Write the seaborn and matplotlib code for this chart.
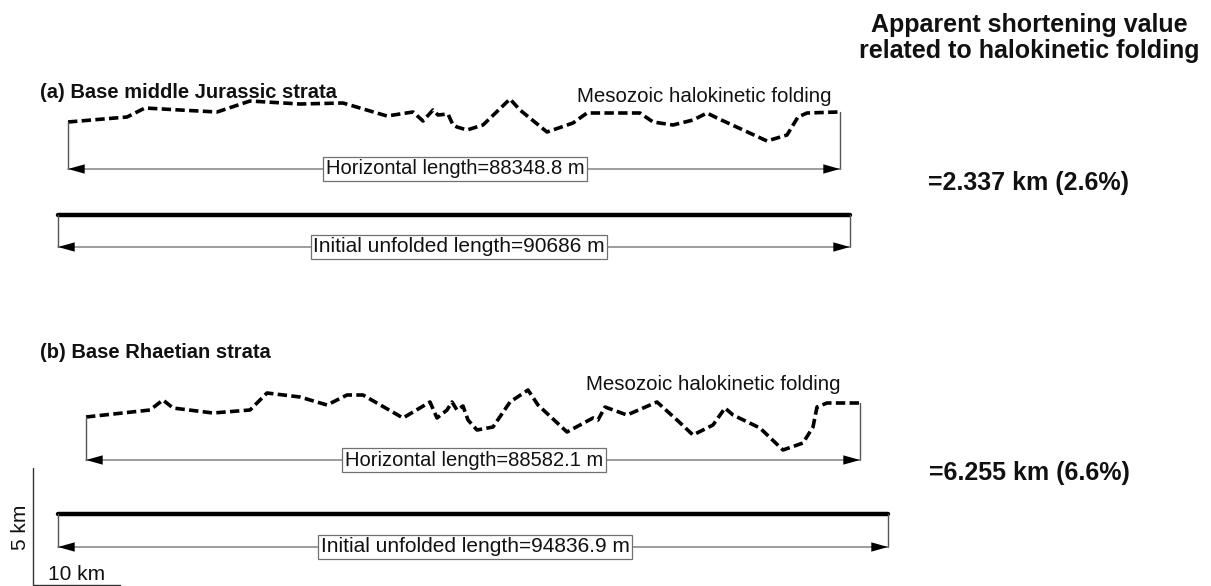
import matplotlib.pyplot as plt
import seaborn as sns

# Profile traces (image pixel units, y grows downward)
a_x = [68, 127, 145, 180, 217, 250, 300, 343, 387, 413, 423, 433, 438, 448, 453,
       457, 467, 483, 510, 520, 547, 573, 587, 640, 653, 673, 693, 707, 717, 767,
       787, 798, 807, 838, 840]
a_y = [122, 117, 108, 110, 112, 101, 104, 103, 116, 112, 121, 110, 115, 114, 125,
       127, 130, 125, 99, 110, 132, 123, 113, 113, 122, 125, 120, 113, 118, 141,
       135, 117, 113, 112, 112]

b_x = [86, 150, 163, 173, 213, 250, 267, 300, 327, 347, 363, 403, 430, 437, 447,
       452, 457, 463, 468, 477, 493, 510, 528, 538, 567, 593, 598, 605, 627, 657,
       677, 693, 713, 725, 733, 760, 783, 803, 813, 817, 827, 860]
b_y = [417, 410, 400, 408, 413, 410, 393, 397, 405, 395, 395, 418, 402, 418, 410,
       402, 410, 406, 420, 430, 427, 402, 390, 405, 432, 418, 420, 407, 415, 402,
       420, 435, 425, 408, 415, 428, 450, 443, 427, 407, 403, 403]

# Unfolded lines: start, end, line level, arrow level
unfold_x0 = [58, 58]
unfold_x1 = [850, 888]
unfold_y = [215, 514]
unfold_arrow_y = [247, 547]

# Horizontal arrows under the folded profiles
horiz_arrow_y = [169, 460]

titles = ["(a) Base middle Jurassic strata", "(b) Base Rhaetian strata"]
title_y = [92, 352]
horiz_labels = ["Horizontal length=88348.8 m", "Horizontal length=88582.1 m"]
horiz_label_x = [455, 474]
unfold_labels = ["Initial unfolded length=90686 m", "Initial unfolded length=94836.9 m"]
unfold_label_x = [459, 475]
fold_label = "Mesozoic halokinetic folding"
fold_label_x = [577, 586]
fold_label_y = [96, 384]
shortening = ["=2.337 km (2.6%)", "=6.255 km (6.6%)"]
shortening_y = [183, 473]

sns.set_theme(style="white")
plt.rcParams['font.family'] = ['Liberation Sans', 'DejaVu Sans']

fig = plt.figure(figsize=(12.11, 5.86), dpi=100)
ax = fig.add_axes([0, 0, 1, 1])
ax.set_xlim(0, 1211)
ax.set_ylim(586, 0)
ax.axis("off")

box = dict(boxstyle="square,pad=0.12", fc="white", ec="#707070", lw=0.9)


def arrow_head(x, y, direction):
    # small filled black head pointing along direction (+1 right, -1 left)
    ax.annotate("", xy=(x, y), xytext=(x - direction * 12, y),
                arrowprops=dict(arrowstyle="-|>,head_length=1.0,head_width=0.28",
                                color="black", lw=0.01, shrinkA=0, shrinkB=0))


for px, py in [(a_x, a_y), (b_x, b_y)]:
    sns.lineplot(x=px, y=py, sort=False, estimator=None, color="black", lw=2.6, ax=ax)
    ax.lines[-1].set_dashes([2.6, 1.2])

for i, (px, py) in enumerate([(a_x, a_y), (b_x, b_y)]):
    ya = horiz_arrow_y[i]
    ax.plot([px[0], px[0]], [py[0], ya], color="#555555", lw=1.0)
    ax.plot([px[-1], px[-1]], [py[-1], ya], color="#555555", lw=1.0)
    ax.plot([px[0], px[-1]], [ya, ya], color="#8c8c8c", lw=1.2)
    arrow_head(px[0], ya, -1)
    arrow_head(px[-1], ya, 1)
    ax.text(horiz_label_x[i], ya, horiz_labels[i], fontsize=14.5, ha="center",
            va="center", bbox=box, color="#111111")
    ax.text(fold_label_x[i], fold_label_y[i], fold_label, fontsize=14.8,
            ha="left", va="center", color="#111111")
    ax.text(40, title_y[i], titles[i], fontsize=14.5, fontweight="bold",
            ha="left", va="center", color="#111111")

    x0, x1, yl, yu = unfold_x0[i], unfold_x1[i], unfold_y[i], unfold_arrow_y[i]
    sns.lineplot(x=[x0, x1], y=[yl, yl], sort=False, estimator=None,
                 color="black", lw=3.2, ax=ax)
    ax.plot([x0, x0], [yl, yu], color="#555555", lw=1.0)
    ax.plot([x1, x1], [yl, yu], color="#555555", lw=1.0)
    ax.plot([x0, x1], [yu, yu], color="#8c8c8c", lw=1.2)
    arrow_head(x0, yu, -1)
    arrow_head(x1, yu, 1)
    ax.text(unfold_label_x[i], yu, unfold_labels[i], fontsize=15, ha="center",
            va="center", bbox=box, color="#111111")

    ax.text(1029, shortening_y[i], shortening[i], fontsize=18, fontweight="bold",
            ha="center", va="center", color="#111111")

ax.text(1029, 38, "Apparent shortening value\nrelated to halokinetic folding",
        fontsize=18, fontweight="bold", ha="center", va="center",
        linespacing=1.15, color="#111111")

# scale bar
ax.plot([33, 33, 120], [468, 585, 585], color="#333333", lw=1.0)
ax.text(21, 527, "5 km", rotation=90, fontsize=15, ha="center", va="center",
        color="#111111")
ax.text(77, 574, "10 km", fontsize=15, ha="center", va="center",
        color="#111111")

fig.savefig("out.png", dpi=100)
